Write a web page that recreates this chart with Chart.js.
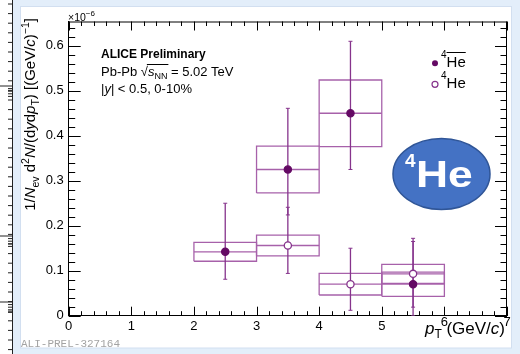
<!DOCTYPE html>
<html>
<head>
<meta charset="utf-8">
<script src="https://cdn.jsdelivr.net/npm/chart.js@4/dist/chart.umd.min.js"></script>
<style>
  html, body { margin: 0; padding: 0; background: #e3eefa; }
  canvas { display: block; }
</style>
</head>
<body>
<canvas id="c" width="520" height="354" style="width:520px;height:354px"></canvas>
<script>
// pT bins (GeV/c)
const antiHeBinLow  = [2, 3, 4, 5];
const antiHeBinHigh = [3, 4, 5, 6];
const antiHePt      = [2.5, 3.5, 4.5, 5.5];
// anti-4He yields (x 1e-6)
const antiHeYield  = [0.142, 0.325, 0.450, 0.070];
const antiHeStatUp = [0.108, 0.136, 0.160, 0.095];
const antiHeStatDn = [0.061, 0.101, 0.125, 0.070];
const antiHeSyst   = [0.021, 0.052, 0.074, 0.027];

const heBinLow  = [3, 4, 5];
const heBinHigh = [4, 5, 6];
const hePt      = [3.5, 4.5, 5.5];
// 4He yields (x 1e-6)
const heYield  = [0.156, 0.070, 0.093];
const heStatUp = [0.085, 0.080, 0.079];
const heStatDn = [0.062, 0.058, 0.074];
const heSyst   = [0.023, 0.024, 0.021];

const xTickLabels = [0, 1, 2, 3, 4, 5, 6, 7];
const yTickLabels = [0, 0.1, 0.2, 0.3, 0.4, 0.5, 0.6];

const FONT = '"Liberation Sans", Arial, Helvetica, sans-serif';
const BOX = '#a761aa';
const ERR = '#86348c';
const MARK = '#640a64';

const datasets = [];
function addSeries(pt, lo, hi, val, up, dn, sys, filled) {
  pt.forEach((x, i) => {
    const yl = val[i] - sys[i], yh = val[i] + sys[i];
    // systematic box
    datasets.push({
      data: [{x: lo[i], y: yl}, {x: hi[i], y: yl}, {x: hi[i], y: yh}, {x: lo[i], y: yh}, {x: lo[i], y: yl}],
      showLine: true, borderColor: BOX, borderWidth: 1.3, pointRadius: 0, order: 3
    });
    // bin width
    datasets.push({
      data: [{x: lo[i], y: val[i]}, {x: hi[i], y: val[i]}],
      showLine: true, borderColor: BOX, borderWidth: 1.3, pointRadius: 0, order: 3
    });
    // statistical error
    datasets.push({
      data: [{x: x, y: val[i] - dn[i]}, {x: x, y: val[i] + up[i]}],
      showLine: true, borderColor: ERR, borderWidth: 1.3,
      pointStyle: 'line', pointRadius: 2, pointBorderColor: ERR, pointBorderWidth: 1, order: 2
    });
  });
  datasets.push({
    data: pt.map((x, i) => ({x: x, y: val[i]})),
    showLine: false, pointStyle: 'circle', pointRadius: 3.6,
    pointBackgroundColor: filled ? MARK : '#ffffff',
    pointBorderColor: filled ? MARK : ERR, pointBorderWidth: 1.3,
    order: filled ? 0 : 1
  });
}
addSeries(antiHePt, antiHeBinLow, antiHeBinHigh, antiHeYield, antiHeStatUp, antiHeStatDn, antiHeSyst, true);
addSeries(hePt, heBinLow, heBinHigh, heYield, heStatUp, heStatDn, heSyst, false);

// draws a run of text pieces (sub/superscripts, italics) starting at x
function rich(ctx, x, y, parts, draw) {
  let cx = x;
  for (const p of parts) {
    ctx.font = (p.it ? 'italic ' : '') + (p.b ? 'bold ' : '') + p.s + 'px ' + FONT;
    const w = ctx.measureText(p.t).width;
    if (draw) ctx.fillText(p.t, cx, y + (p.dy || 0));
    cx += w;
  }
  return cx - x;
}

const decor = {
  id: 'decor',
  beforeDraw(chart) {
    const ctx = chart.ctx;
    ctx.save();
    ctx.fillStyle = '#e3eefa';
    ctx.fillRect(0, 0, 520, 354);
    // main panel
    ctx.fillStyle = '#ffffff';
    ctx.fillRect(20, 6, 491.5, 342);
    ctx.strokeStyle = '#d2dff0';
    ctx.lineWidth = 1;
    ctx.strokeRect(20.5, 6.5, 491, 341.5);
    // neighbouring panel edge on the left
    ctx.fillStyle = '#ffffff';
    ctx.fillRect(0, 0, 13, 354);
    ctx.strokeStyle = '#222';
    ctx.beginPath();
    ctx.moveTo(12.5, 0); ctx.lineTo(12.5, 354);
    for (let y = 4; y < 354; y += 9.6) { ctx.moveTo(8, y); ctx.lineTo(12.5, y); }
    for (const yc of [86, 236, 302]) {
      ctx.moveTo(0, yc); ctx.lineTo(12.5, yc);
      for (let k = 1; k <= 4; k++) { ctx.moveTo(8, yc + k * 2.6); ctx.lineTo(12.5, yc + k * 2.6); }
    }
    ctx.stroke();
    ctx.restore();
  },
  afterDraw(chart) {
    const ctx = chart.ctx;
    const xs = chart.scales.x, ys = chart.scales.y;
    const a = chart.chartArea;
    ctx.save();
    ctx.strokeStyle = '#000';
    ctx.lineWidth = 1;
    ctx.beginPath();
    ctx.moveTo(a.left, a.top + 0.5); ctx.lineTo(a.right, a.top + 0.5);
    ctx.moveTo(a.right - 0.5, a.top); ctx.lineTo(a.right - 0.5, a.bottom);
    // inward ticks on x (bottom and top)
    for (let i = 0; i <= 35; i++) {
      const v = i * 0.2;
      const px = Math.round(xs.getPixelForValue(v)) + 0.5;
      const len = (i % 5 === 0) ? 9 : 4.5;
      ctx.moveTo(px, a.bottom); ctx.lineTo(px, a.bottom - len);
      ctx.moveTo(px, a.top); ctx.lineTo(px, a.top + len);
    }
    // inward ticks on y (left and right)
    for (let i = 0; i <= 32; i++) {
      const v = i * 0.02;
      const py = Math.round(ys.getPixelForValue(v)) + 0.5;
      const len = (i % 5 === 0) ? 12 : 6.5;
      ctx.moveTo(a.left, py); ctx.lineTo(a.left + len, py);
      ctx.moveTo(a.right, py); ctx.lineTo(a.right - len, py);
    }
    ctx.stroke();

    ctx.fillStyle = '#000';
    ctx.textBaseline = 'alphabetic';
    ctx.textAlign = 'left';

    // exponent
    rich(ctx, 68, 20.5, [{t: '\u00d710', s: 10.5}, {t: '\u22126', s: 8, dy: -5}], true);

    // y-axis title
    const yTitle = [
      {t: '1/', s: 15}, {t: 'N', s: 15, it: 1}, {t: 'ev', s: 10.5, dy: 3.5},
      {t: ' d', s: 15}, {t: '2', s: 10.5, dy: -6}, {t: 'N', s: 15, it: 1},
      {t: '/(d', s: 15}, {t: 'y', s: 15, it: 1}, {t: 'd', s: 15}, {t: 'p', s: 15, it: 1},
      {t: 'T', s: 10.5, dy: 3.5}, {t: ') [(GeV/', s: 15}, {t: 'c', s: 15, it: 1},
      {t: ')', s: 15}, {t: '\u22121', s: 10.5, dy: -6}, {t: ']', s: 15}
    ];
    ctx.save();
    ctx.translate(35, 18);
    ctx.rotate(-Math.PI / 2);
    const wy = rich(ctx, 0, 0, yTitle, false);
    rich(ctx, -wy, 0, yTitle, true);
    ctx.restore();

    // x-axis title
    const xTitle = [
      {t: 'p', s: 17, it: 1}, {t: 'T', s: 12, dy: 4}, {t: ' (GeV/', s: 17},
      {t: 'c', s: 17, it: 1}, {t: ')', s: 17}
    ];
    const wx = rich(ctx, 0, 0, xTitle, false);
    rich(ctx, 505 - wx, 334, xTitle, true);

    // collision info
    rich(ctx, 101, 57.7, [{t: 'ALICE Preliminary', s: 12, b: 1}], true);
    let cx = 101;
    cx += rich(ctx, cx, 75.5, [{t: 'Pb-Pb ', s: 13}], true);
    ctx.font = '13px ' + FONT;
    ctx.fillText('\u221a', cx, 75.5);
    cx += ctx.measureText('\u221a').width;
    const sStart = cx;
    cx += rich(ctx, cx, 75.5, [{t: 's', s: 13, it: 1}, {t: 'NN', s: 9, dy: 3}], true);
    ctx.beginPath();
    ctx.moveTo(sStart - 1, 64.5); ctx.lineTo(cx + 1, 64.5);
    ctx.stroke();
    rich(ctx, cx, 75.5, [{t: ' = 5.02 TeV', s: 13}], true);
    rich(ctx, 101, 93, [{t: '|', s: 13}, {t: 'y', s: 13, it: 1}, {t: '| < 0.5, 0-10%', s: 13}], true);

    // legend
    ctx.fillStyle = MARK;
    ctx.beginPath(); ctx.arc(435, 63.3, 3, 0, Math.PI * 2); ctx.fill();
    ctx.fillStyle = '#fff'; ctx.strokeStyle = ERR; ctx.lineWidth = 1.2;
    ctx.beginPath(); ctx.arc(435, 84.3, 3, 0, Math.PI * 2); ctx.fill(); ctx.stroke();
    ctx.fillStyle = '#000'; ctx.strokeStyle = '#000'; ctx.lineWidth = 1;
    const w4 = rich(ctx, 441, 58, [{t: '4', s: 10}], true);
    const wHe = rich(ctx, 441 + w4, 67.3, [{t: 'He', s: 15}], true);
    ctx.beginPath(); ctx.moveTo(441 + w4, 52.5); ctx.lineTo(441 + w4 + wHe, 52.5); ctx.stroke();
    rich(ctx, 441, 79, [{t: '4', s: 10}], true);
    rich(ctx, 441 + w4, 88.3, [{t: 'He', s: 15}], true);

    // 4He badge
    ctx.beginPath();
    ctx.ellipse(441.5, 174, 48.5, 35.5, 0, 0, Math.PI * 2);
    ctx.fillStyle = '#4472c4';
    ctx.fill();
    ctx.strokeStyle = '#2f5597';
    ctx.lineWidth = 1.5;
    ctx.stroke();
    ctx.fillStyle = '#ffffff';
    rich(ctx, 405, 166.5, [{t: '4', s: 19, b: 1}], true);
    ctx.save();
    ctx.translate(416, 187);
    ctx.scale(1.2, 1);
    rich(ctx, 0, 0, [{t: 'He', s: 37, b: 1}], true);
    ctx.restore();

    // plot id
    ctx.fillStyle = '#a3a3a3';
    ctx.font = '11px "Liberation Mono", "DejaVu Sans Mono", monospace';
    ctx.fillText('ALI-PREL-327164', 21, 347);
    ctx.restore();
  }
};

new Chart(document.getElementById('c'), {
  type: 'scatter',
  data: { datasets: datasets },
  options: {
    responsive: false,
    animation: false,
    events: [],
    layout: { padding: { left: 20, right: 13, top: 21.5, bottom: 0 } },
    plugins: { legend: { display: false }, tooltip: { enabled: false } },
    scales: {
      x: {
        type: 'linear', position: 'bottom', min: 0, max: 7,
        afterBuildTicks: s => { s.ticks = xTickLabels.map(v => ({value: v})); },
        afterFit: s => { s.height = 38.3; },
        grid: { display: false, drawTicks: false },
        border: { display: true, color: '#000', width: 1 },
        ticks: {
          // the last two labels sit a little higher, clear of the axis title
          font: c => ({ family: FONT, size: 13, lineHeight: (c.tick && c.tick.value >= 6) ? 0.62 : 1.2 }),
          color: '#000', padding: 3, maxRotation: 0, autoSkip: false,
          callback: v => String(v)
        }
      },
      y: {
        type: 'linear', position: 'left', min: 0, max: 0.654,
        afterBuildTicks: s => { s.ticks = yTickLabels.map(v => ({value: v})); },
        afterFit: s => { s.width = 48.7; },
        grid: { display: false, drawTicks: false },
        border: { display: true, color: '#000', width: 1 },
        ticks: { font: { family: FONT, size: 13 }, color: '#000', padding: 5, autoSkip: false,
                 callback: v => (v === 0 ? '0' : v.toFixed(1)) }
      }
    }
  },
  plugins: [decor]
});
</script>
</body>
</html>
